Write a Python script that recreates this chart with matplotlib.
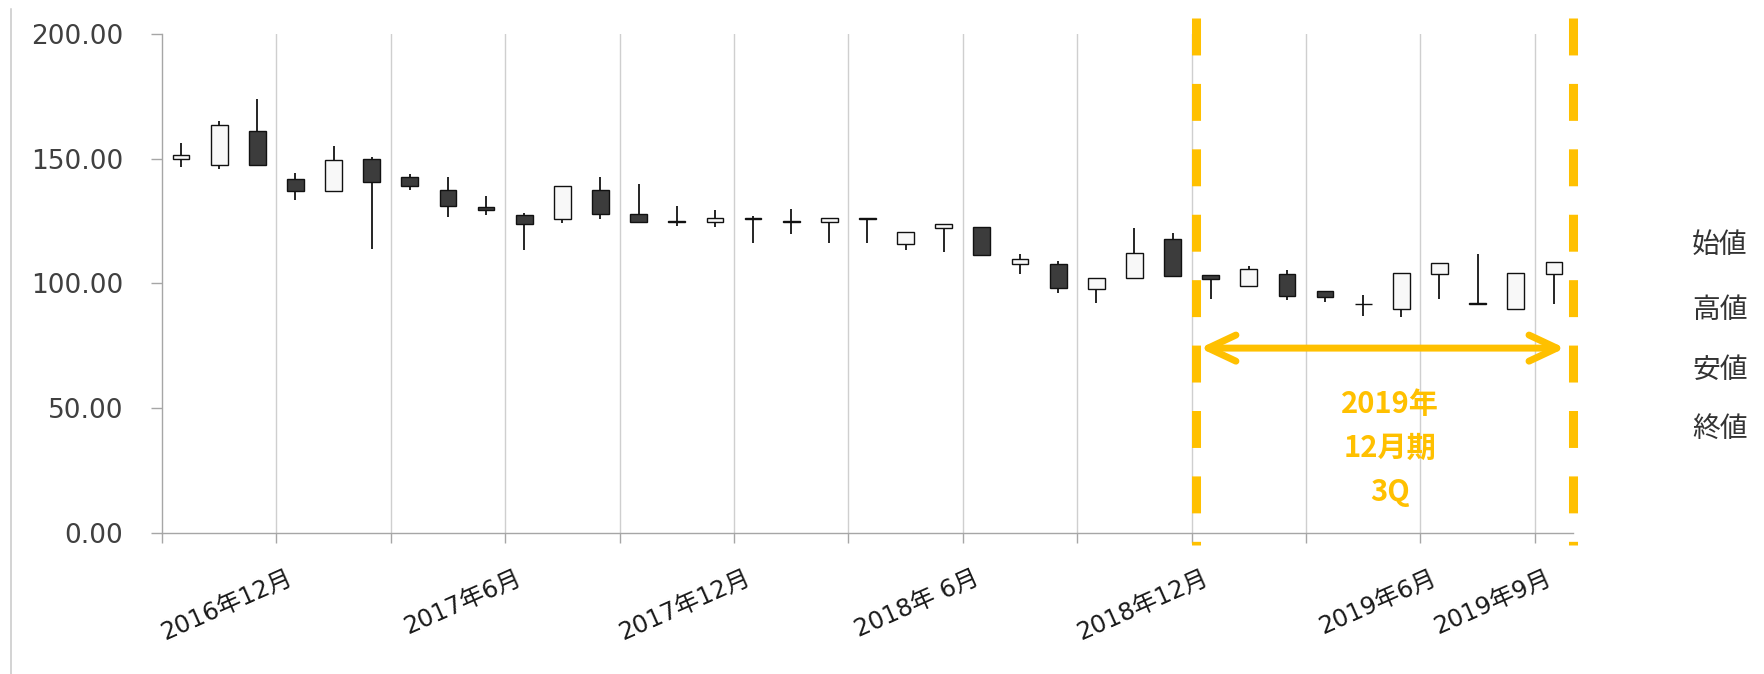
import numpy as np
import matplotlib
matplotlib.use("Agg")
import matplotlib.pyplot as plt
from matplotlib.lines import Line2D

plt.rcParams['font.family'] = ['DejaVu Sans', 'Noto Sans CJK JP']
plt.rcParams['lines.scale_dashes'] = False

# monthly candles, Oct 2016 .. Oct 2019
opens = [150.0, 147.3, 161.3, 141.7, 137.0, 149.9, 142.8, 137.6, 130.5, 127.3,
         125.7, 137.6, 127.9, 125.0, 124.7, 126.4, 124.9, 124.7, 126.3, 115.9,
         122.1, 122.7, 107.9, 107.9, 97.6, 102.3, 117.7, 103.2, 99.1, 103.8,
         97.1, 91.9, 89.8, 103.8, 92.0, 89.8, 103.8]
highs = [156.4, 165.3, 174.0, 144.3, 155.0, 150.7, 143.9, 142.8, 135.0, 128.4,
         139.2, 142.7, 139.9, 131.0, 129.5, 127.0, 130.0, 126.3, 126.4, 120.8,
         123.7, 122.7, 112.0, 108.9, 102.3, 122.3, 120.3, 103.5, 107.1, 105.6,
         97.1, 95.4, 104.3, 108.3, 112.0, 104.3, 108.5]
lows = [146.8, 146.0, 147.3, 133.3, 137.0, 114.0, 137.6, 126.7, 127.3, 113.3,
        124.3, 126.0, 124.7, 123.1, 122.5, 116.4, 120.0, 116.4, 116.4, 113.3,
        112.7, 111.3, 104.0, 96.0, 92.0, 102.3, 103.1, 93.8, 99.1, 93.4,
        92.5, 86.8, 86.4, 93.8, 91.7, 89.8, 91.8]
closes = [151.6, 163.7, 147.3, 137.0, 149.5, 140.7, 139.2, 130.9, 129.3, 123.7,
          139.2, 128.0, 124.7, 124.6, 126.3, 125.9, 124.5, 126.3, 125.9, 120.8,
          123.7, 111.3, 109.9, 98.1, 102.3, 112.4, 103.1, 101.8, 105.9, 95.0,
          94.5, 91.7, 104.3, 108.3, 91.7, 104.3, 108.5]

# one label per quarterly gridline
x_labels = ['2016年12月', '', '2017年6月', '', '2017年12月', '', '2018年 6月',
            '', '2018年12月', '', '2019年6月', '2019年9月']
legend_names = ['始値', '高値', '安値', '終値']
period_text = ['2019年', '12月期', '3Q']

gold = '#FFC000'
axis_gray = '#A6A6A6'
text_gray = '#404040'

o = np.array(opens)
h = np.array(highs)
l = np.array(lows)
c = np.array(closes)
x = np.arange(len(o))
up = c >= o

fig = plt.figure(figsize=(17.64, 6.74), dpi=100)
ax = fig.add_axes([0.0918, 0.2092, 0.7999, 0.7404])

# wicks and bodies
ax.vlines(x, l, h, color='black', lw=1.2, zorder=2)
body_bottom = np.minimum(o, c)
body_height = np.abs(c - o)
ax.bar(x[up], body_height[up], bottom=body_bottom[up], width=0.44,
       color='#F8F8F8', edgecolor='#111111', linewidth=1.0, zorder=3)
ax.bar(x[~up], body_height[~up], bottom=body_bottom[~up], width=0.44,
       color='#3C3C3C', edgecolor='#111111', linewidth=1.0, zorder=3)

ax.set_xlim(-0.5, len(o) - 0.5)
ax.set_ylim(0, 200)

grid_x = np.arange(2.5, len(o) - 0.5, 3)
ax.set_xticks(np.concatenate([[-0.5], grid_x]))
ax.set_xticklabels([])
for gx in grid_x:
    ax.axvline(gx, color='#CFCFCF', lw=1.0, zorder=0)

ax.set_yticks([0, 50, 100, 150, 200])
ax.set_yticklabels(['%.2f' % v for v in [0, 50, 100, 150, 200]])
ax.tick_params(axis='y', direction='out', length=8, width=1.0, color=axis_gray,
               labelsize=19, labelcolor=text_gray, pad=20)
ax.tick_params(axis='x', direction='out', length=7, width=1.0, color=axis_gray)

for side in ['top', 'right']:
    ax.spines[side].set_visible(False)
for side in ['left', 'bottom']:
    ax.spines[side].set_color(axis_gray)
    ax.spines[side].set_linewidth(1.0)

for gx, lab in zip(grid_x, x_labels):
    if lab:
        ax.annotate(lab, xy=(gx, 0), xycoords=('data', 'axes fraction'),
                    xytext=(11, -32), textcoords='offset points',
                    ha='right', va='center', rotation=24,
                    rotation_mode='anchor', fontsize=17.5, color='#1A1A1A',
                    annotation_clip=False)

# period markers
for px in [26.61, 36.5]:
    ax.plot([px, px], [206.4, -4.8], color=gold, lw=6.5, dashes=(26.6, 20.5),
            solid_capstyle='butt', clip_on=False, zorder=5)

ax.annotate('', xy=(36.29, 74.1), xytext=(26.72, 74.1),
            arrowprops=dict(arrowstyle='<->, head_length=20, head_width=9.4',
                            color=gold, lw=5, shrinkA=0, shrinkB=0,
                            mutation_scale=1, capstyle='round',
                            joinstyle='round'), zorder=5)

for txt, ty in zip(period_text, [51.7, 34.1, 16.4]):
    ax.text(31.7, ty, txt, ha='center', va='center', fontsize=21,
            fontweight='bold', color=gold, family=['Noto Sans CJK JP'],
            zorder=6)

for name, fy in zip(legend_names, [0.6365, 0.540, 0.451, 0.3635]):
    fig.text(0.975, fy, name, ha='center', va='center', fontsize=20,
             color='#333333', family=['Noto Sans CJK JP'])

# chart frame edge on the left
fig.add_artist(Line2D([10.5 / 1764, 10.5 / 1764], [0, 1 - 9 / 674],
                      transform=fig.transFigure, color='#C8C8C8', lw=1.1))

fig.savefig('out.png', dpi=100)
